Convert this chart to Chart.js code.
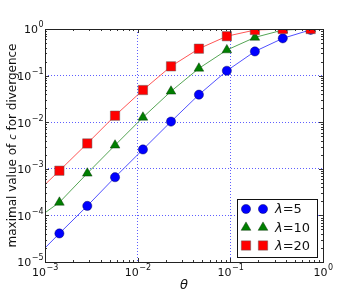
<!DOCTYPE html>
<html>
<head>
<meta charset="utf-8">
<script src="https://cdn.jsdelivr.net/npm/chart.js@4.4.0/dist/chart.umd.min.js"></script>
<style>
  html, body { margin: 0; background: #fff; }
</style>
</head>
<body>
<canvas id="chart" width="358" height="292"></canvas>
<script>
// values
const theta = [0.00143, 0.00286, 0.0057, 0.0114, 0.0229, 0.0458, 0.0917, 0.184, 0.368, 0.736];
const lam5 = [4.1e-5, 1.6e-4, 6.6e-4, 2.6e-3, 1.03e-2, 0.039, 0.127, 0.33, 0.63, 0.96];
const lam10 = [1.9e-4, 8.0e-4, 3.2e-3, 0.0127, 0.046, 0.143, 0.354, 0.66, 0.95, 1.0];
const lam20 = [9.1e-4, 3.5e-3, 0.0138, 0.049, 0.158, 0.378, 0.70, 0.95, 1.0, 1.0];
// where each curve enters at the left edge
const lineStartTheta = 0.001;
const lineStart = [2.0e-5, 1.14e-4, 4.6e-4];

const seriesLabels = ['5', '10', '20'];
const xTickExps = [-3, -2, -1, 0];
const yTickExps = [-5, -4, -3, -2, -1, 0];

const styles = [
  { point: 'circle', radius: 4.6, fill: '#0000ff', edge: 'rgba(0,0,80,0.7)', line: '#5050ff' },
  { point: 'triangle', radius: 5.6, fill: '#007f00', edge: 'rgba(0,40,0,0.7)', line: '#55a555' },
  { point: 'rect', radius: 6.6, fill: '#ff0000', edge: 'rgba(90,90,90,0.8)', line: '#ff5555' }
];

const allSeries = [lam5, lam10, lam20];

const toPts = (xs, ys) => xs.map((x, i) => ({ x: x, y: ys[i] }));

const datasets = [];
allSeries.forEach((ys, i) => {
  datasets.push({
    type: 'line',
    label: 'line' + i,
    data: [{ x: lineStartTheta, y: lineStart[i] }].concat(toPts(theta, ys)),
    borderColor: styles[i].line,
    borderWidth: 1,
    pointRadius: 0,
    tension: 0,
    order: 10
  });
});
allSeries.forEach((ys, i) => {
  datasets.push({
    type: 'scatter',
    label: 'λ=' + seriesLabels[i],
    data: toPts(theta, ys),
    showLine: false,
    pointStyle: styles[i].point,
    pointRadius: styles[i].radius,
    pointBackgroundColor: styles[i].fill,
    pointBorderColor: styles[i].edge,
    pointBorderWidth: 0.6,
    order: 2 - i
  });
});

const isMajor = v => Math.abs(Math.log10(v) - Math.round(Math.log10(v))) < 1e-6;

function drawPow(ctx, x, y, exp, align) {
  const base = '10';
  const sup = exp < 0 ? '\u2212' + (-exp) : String(exp);
  ctx.font = '11px "DejaVu Sans"';
  const wb = ctx.measureText(base).width;
  ctx.font = '8px "DejaVu Sans"';
  const ws = ctx.measureText(sup).width;
  let x0;
  if (align === 'center') x0 = x - (wb + ws) / 2;
  else x0 = x - (wb + ws);
  ctx.textAlign = 'left';
  ctx.textBaseline = 'alphabetic';
  ctx.font = '11px "DejaVu Sans"';
  ctx.fillText(base, x0, y);
  ctx.font = '8px "DejaVu Sans"';
  ctx.fillText(sup, x0 + wb + 0.5, y - 6);
}

const decor = {
  id: 'decor',
  afterDraw(chart) {
    const ctx = chart.ctx;
    const a = chart.chartArea;
    const xs = chart.scales.x, ys = chart.scales.y;
    ctx.save();
    // minor / major ticks inside the frame
    ctx.strokeStyle = '#333';
    ctx.lineWidth = 1;
    ctx.beginPath();
    for (let d = -3; d < 0; d++) {
      for (let m = 1; m <= 9; m++) {
        const px = Math.round(xs.getPixelForValue(m * Math.pow(10, d))) + 0.5;
        const len = m === 1 ? 4 : 2;
        ctx.moveTo(px, a.bottom); ctx.lineTo(px, a.bottom - len);
        ctx.moveTo(px, a.top); ctx.lineTo(px, a.top + len);
      }
    }
    for (let d = -5; d < 0; d++) {
      for (let m = 1; m <= 9; m++) {
        const py = Math.round(ys.getPixelForValue(m * Math.pow(10, d))) + 0.5;
        const len = m === 1 ? 4 : 2;
        ctx.moveTo(a.left, py); ctx.lineTo(a.left + len, py);
        ctx.moveTo(a.right, py); ctx.lineTo(a.right - len, py);
      }
    }
    ctx.stroke();
    // frame
    ctx.strokeStyle = '#222';
    ctx.strokeRect(Math.round(a.left) + 0.5, Math.round(a.top) + 0.5,
      Math.round(a.right - a.left), Math.round(a.bottom - a.top));

    // tick labels
    ctx.fillStyle = '#111';
    xTickExps.forEach(e => {
      drawPow(ctx, xs.getPixelForValue(Math.pow(10, e)), a.bottom + 13.5, e, 'center');
    });
    yTickExps.forEach(e => {
      drawPow(ctx, a.left - 2, ys.getPixelForValue(Math.pow(10, e)) + 4.3, e, 'right');
    });

    // axis titles
    ctx.font = 'italic 13px "DejaVu Sans"';
    ctx.textAlign = 'center';
    ctx.fillText('\u03b8', (a.left + a.right) / 2, 289);

    const p1 = 'maximal value of ', p2 = 'c', p3 = ' for divergence';
    ctx.font = '12px "DejaVu Sans"';
    const w1 = ctx.measureText(p1).width, w3 = ctx.measureText(p3).width;
    ctx.font = 'italic 10px "DejaVu Sans"';
    const w2 = ctx.measureText(p2).width;
    const tot = w1 + w2 + w3;
    ctx.translate(16, (a.top + a.bottom) / 2);
    ctx.rotate(-Math.PI / 2);
    ctx.textAlign = 'left';
    let cx = -tot / 2;
    ctx.font = '12px "DejaVu Sans"';
    ctx.fillText(p1, cx, 0); cx += w1;
    ctx.font = 'italic 10px "DejaVu Sans"';
    ctx.fillText(p2, cx, 0); cx += w2;
    ctx.font = '12px "DejaVu Sans"';
    ctx.fillText(p3, cx, 0);
    ctx.restore();

    // legend box
    ctx.save();
    ctx.fillStyle = '#fff';
    ctx.fillRect(237, 199, 80, 58);
    ctx.strokeStyle = '#111';
    ctx.lineWidth = 1;
    ctx.strokeRect(237.5, 199.5, 80, 58);
    const rowY = [209, 227.5, 245.5];
    styles.forEach((s, i) => {
      const opts = { pointStyle: s.point, radius: s.radius, rotation: 0, borderWidth: 0.6 };
      ctx.fillStyle = s.fill;
      ctx.strokeStyle = s.edge;
      ctx.lineWidth = 0.6;
      Chart.helpers.drawPoint(ctx, opts, 246, rowY[i]);
      Chart.helpers.drawPoint(ctx, opts, 263, rowY[i]);
      ctx.fillStyle = '#111';
      ctx.textAlign = 'left';
      ctx.textBaseline = 'middle';
      ctx.font = 'italic 13px "DejaVu Sans"';
      ctx.fillText('\u03bb', 275, rowY[i] + 1);
      const wl = ctx.measureText('\u03bb').width;
      ctx.font = '13px "DejaVu Sans"';
      ctx.fillText('=' + seriesLabels[i], 275 + wl, rowY[i] + 1);
    });
    ctx.restore();
  }
};

const gridOpts = {
  drawTicks: false,
  lineWidth: 1,
  color: c => (c.tick && isMajor(c.tick.value)) ? 'rgba(40,40,255,0.75)' : 'rgba(0,0,0,0)'
};

new Chart(document.getElementById('chart'), {
  type: 'scatter',
  data: { datasets: datasets },
  options: {
    responsive: false,
    animation: false,
    layout: { padding: { left: 45, top: 29, right: 35, bottom: 30 } },
    plugins: { legend: { display: false }, tooltip: { enabled: false } },
    scales: {
      x: {
        type: 'logarithmic', min: 0.001, max: 1,
        ticks: { display: false },
        border: { display: false, dash: [1, 2] },
        grid: gridOpts
      },
      y: {
        type: 'logarithmic', min: 1e-5, max: 1,
        ticks: { display: false },
        border: { display: false, dash: [1, 2] },
        grid: gridOpts
      }
    }
  },
  plugins: [decor]
});
</script>
</body>
</html>
